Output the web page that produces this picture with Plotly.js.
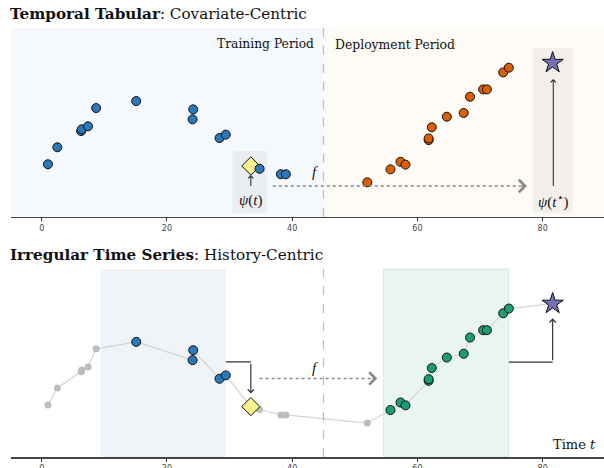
<!DOCTYPE html>
<html>
<head>
<meta charset="utf-8">
<script src="https://cdn.plot.ly/plotly-3.0.1.min.js"></script>
<style>html,body{margin:0;padding:0;background:#fff}#chart{width:604px;height:468px}</style>
</head>
<body>
<div id="chart"></div>
<script>
// ---- data ----
const times  = [1.0, 2.5, 6.3, 6.4, 7.4, 8.7, 15.1, 24.1, 24.2, 28.4, 29.4, 34.8, 38.2, 39.0,
                52.0, 55.7, 57.3, 58.1, 61.8, 61.8, 62.3, 64.7, 67.4, 68.4, 70.5, 71.1, 73.7, 74.6];
const values = [2.78, 3.68, 4.54, 4.63, 4.79, 5.76, 6.13, 5.16, 5.69, 4.17, 4.35, 2.54, 2.25, 2.25,
                1.82, 2.51, 2.91, 2.76, 4.06, 4.15, 4.74, 5.30, 5.50, 6.36, 6.75, 6.75, 7.65, 7.90];
const queryTime = [33.4];
const queryValue = [2.69];
const targetTime = [81.6];
const targetValue = [8.16];
const cutoff = 45;
const historyWindow = [9.4, 29.4];
const forecastWindow = [54.6, 74.6];
const tickVals = [0, 20, 40, 60, 80];

const BLUE = '#2a78b8', ORANGE = '#d95f02', GREEN = '#1b9e77', PURPLE = '#7570b3', YELLOW = '#f7f18e';
const SERIF = 'DejaVu Serif, Liberation Serif, serif';
const SERIF2 = 'Liberation Serif, DejaVu Serif, serif';

const idx = times.map((_, i) => i);
const trainIdx = idx.filter(i => times[i] < cutoff);
const deployIdx = idx.filter(i => times[i] >= cutoff);
const inWin = (t, w) => t >= w[0] - 1e-6 && t <= w[1] + 1e-6;
const histIdx = idx.filter(i => inWin(times[i], historyWindow));
const foreIdx = idx.filter(i => inWin(times[i], forecastWindow));
const restIdx = idx.filter(i => !inWin(times[i], historyWindow) && !inWin(times[i], forecastWindow));
const pick = (arr, ids) => ids.map(i => arr[i]);

// full ordered line (history + query + target)
const lineAll = times.map((t, i) => [t, values[i]]).concat([[queryTime[0], queryValue[0]], [targetTime[0], targetValue[0]]])
  .sort((a, b) => a[0] - b[0]);

const mk = (color, size) => ({color: color, size: size, line: {color: '#111', width: 1}});

const traces = [
  // top panel
  {x: queryTime, y: queryValue, xaxis: 'x', yaxis: 'y', mode: 'markers', type: 'scatter',
   marker: {symbol: 'diamond', color: YELLOW, size: 14, line: {color: '#111', width: 1}}},
  {x: pick(times, trainIdx), y: pick(values, trainIdx), xaxis: 'x', yaxis: 'y', mode: 'markers', type: 'scatter', marker: mk(BLUE, 9)},
  {x: pick(times, deployIdx), y: pick(values, deployIdx), xaxis: 'x', yaxis: 'y', mode: 'markers', type: 'scatter', marker: mk(ORANGE, 9)},
  {x: targetTime, y: targetValue, xaxis: 'x', yaxis: 'y', mode: 'markers', type: 'scatter',
   marker: {symbol: 'star', color: PURPLE, size: 16, line: {color: '#111', width: 1}}},
  // bottom panel
  {x: lineAll.map(p => p[0]), y: lineAll.map(p => p[1]), xaxis: 'x2', yaxis: 'y2', mode: 'lines', type: 'scatter',
   line: {color: '#d4d4d4', width: 1.2}},
  {x: pick(times, restIdx), y: pick(values, restIdx), xaxis: 'x2', yaxis: 'y2', mode: 'markers', type: 'scatter',
   marker: {color: '#bdbdbd', size: 7}},
  {x: pick(times, histIdx), y: pick(values, histIdx), xaxis: 'x2', yaxis: 'y2', mode: 'markers', type: 'scatter', marker: mk(BLUE, 9)},
  {x: pick(times, foreIdx), y: pick(values, foreIdx), xaxis: 'x2', yaxis: 'y2', mode: 'markers', type: 'scatter', marker: mk(GREEN, 9)},
  {x: queryTime, y: queryValue, xaxis: 'x2', yaxis: 'y2', mode: 'markers', type: 'scatter',
   marker: {symbol: 'diamond', color: YELLOW, size: 14, line: {color: '#111', width: 1}}},
  {x: targetTime, y: targetValue, xaxis: 'x2', yaxis: 'y2', mode: 'markers', type: 'scatter',
   marker: {symbol: 'star', color: PURPLE, size: 16, line: {color: '#111', width: 1}}}
];

const xr = [-4.9, 89.8];
const xax = () => ({range: xr, domain: [0, 1], showgrid: false, zeroline: false, showline: true,
  linecolor: '#444', linewidth: 1.3, ticks: 'outside', ticklen: 3, tickcolor: '#333', tickwidth: 1,
  tickvals: tickVals, ticktext: tickVals.map(String), tickfont: {family: 'DejaVu Sans', size: 8, color: '#444'}, fixedrange: true});
const yax = (dom, anchor) => ({range: [0, 10], domain: dom, visible: false, showgrid: false, zeroline: false, anchor: anchor});

const shapes = [
  // top backgrounds
  {type: 'rect', xref: 'x', yref: 'y domain', x0: xr[0], x1: cutoff, y0: 0, y1: 1, fillcolor: '#f5f9fe', line: {width: 0}, layer: 'below'},
  {type: 'rect', xref: 'x', yref: 'y domain', x0: cutoff, x1: xr[1], y0: 0, y1: 1, fillcolor: '#fefbf6', line: {width: 0}, layer: 'below'},
  {type: 'rect', xref: 'x', yref: 'y', x0: 30.5, x1: 36.0, y0: 0.21, y1: 3.48, fillcolor: 'rgba(190,190,190,0.2)', line: {width: 0}, layer: 'below'},
  {type: 'rect', xref: 'x', yref: 'y', x0: 78.5, x1: 84.8, y0: 0.21, y1: 8.94, fillcolor: 'rgba(190,190,190,0.17)', line: {width: 0}, layer: 'below'},
  {type: 'line', xref: 'x', yref: 'y domain', x0: cutoff, x1: cutoff, y0: 0, y1: 1, line: {color: '#bbb', width: 1.2, dash: 'dash'}},
  {type: 'line', xref: 'x', yref: 'y', x0: 36.9, x1: 77.2, y0: 1.63, y1: 1.63, line: {color: '#888', width: 1.5, dash: 'dot'}},
  // bottom windows
  {type: 'rect', xref: 'x2', yref: 'y2 domain', x0: historyWindow[0], x1: historyWindow[1], y0: 0, y1: 1, fillcolor: 'rgba(70,130,180,0.09)', line: {width: 0}, layer: 'below'},
  {type: 'rect', xref: 'x2', yref: 'y2 domain', x0: forecastWindow[0], x1: forecastWindow[1], y0: 0, y1: 1, fillcolor: 'rgba(27,158,119,0.10)', line: {color: 'rgba(27,158,119,0.15)', width: 1}, layer: 'below'},
  {type: 'line', xref: 'x2', yref: 'y2 domain', x0: cutoff, x1: cutoff, y0: 0, y1: 1, line: {color: '#bbb', width: 1.2, dash: 'dash'}},
  {type: 'line', xref: 'x2', yref: 'y2', x0: 34.8, x1: 53.3, y0: 4.19, y1: 4.19, line: {color: '#888', width: 1.5, dash: 'dot'}},
  {type: 'line', xref: 'x2', yref: 'y2', x0: historyWindow[1], x1: queryTime[0], y0: 5.07, y1: 5.07, line: {color: '#333', width: 1.2}},
  {type: 'line', xref: 'x2', yref: 'y2', x0: forecastWindow[1], x1: targetTime[0], y0: 5.05, y1: 5.05, line: {color: '#333', width: 1.2}}
];

const txt = (x, y, xref, yref, text, size, anchor, fam) => ({x: x, y: y, xref: xref, yref: yref, text: text, showarrow: false,
  xanchor: anchor || 'center', yanchor: 'middle', font: {family: fam || SERIF, size: size, color: '#111'}});
const arrow = (x, y, ax, ay, xref, yref, color, w, size) => ({x: x, y: y, ax: ax, ay: ay, xref: xref, yref: yref, axref: xref, ayref: yref,
  text: ' ', font: {size: 1}, showarrow: true, arrowhead: 4, arrowsize: size, arrowwidth: w, arrowcolor: color, standoff: 0, startstandoff: 0});

const annotations = [
  txt(-0.005, 0.970, 'paper', 'paper', '<b>Temporal Tabular</b>: Covariate-Centric', 15.2, 'left'),
  txt(-0.005, 0.455, 'paper', 'paper', '<b>Irregular Time Series</b>: History-Centric', 15.2, 'left'),
  txt(43.8, 9.15, 'x', 'y', 'Training Period', 12.3, 'right'),
  txt(46.6, 9.15, 'x', 'y', 'Deployment Period', 12.4, 'left'),
  txt(43.7, 2.37, 'x', 'y', '<i>f</i>', 15, 'center', SERIF2),
  txt(43.7, 4.73, 'x2', 'y2', '<i>f</i>', 15, 'center', SERIF2),
  txt(33.4, 0.88, 'x', 'y', '<i>ψ</i>(<i>t</i>)', 15, 'center', SERIF2),
  txt(81.7, 0.83, 'x', 'y', '<i>ψ</i>(<i>t</i><sup>⋆</sup>)', 15, 'center', SERIF2),
  txt(88.9, 0.7, 'x2', 'y2', 'Time <i>t</i>', 13, 'right'),
  arrow(33.4, 2.21, 33.4, 1.52, 'x', 'y', '#222', 1, 1),
  arrow(81.7, 7.30, 81.7, 1.52, 'x', 'y', '#222', 1, 1),
  arrow(77.5, 1.63, 76.5, 1.63, 'x', 'y', '#888', 1.5, 1.6),
  arrow(53.6, 4.19, 52.6, 4.19, 'x2', 'y2', '#888', 1.5, 1.6),
  arrow(queryTime[0], 3.39, queryTime[0], 5.07, 'x2', 'y2', '#333', 1.2, 1),
  arrow(targetTime[0], 7.38, targetTime[0], 5.05, 'x2', 'y2', '#333', 1.2, 1)
];

const layout = {
  width: 604, height: 468, showlegend: false,
  margin: {l: 11, r: 0, t: 0, b: 0, pad: 0},
  paper_bgcolor: '#fff', plot_bgcolor: 'rgba(0,0,0,0)',
  xaxis: Object.assign(xax(), {anchor: 'y'}),
  yaxis: yax([0.537, 0.940], 'x'),
  xaxis2: Object.assign(xax(), {anchor: 'y2'}),
  yaxis2: yax([0.0229, 0.4252], 'x2'),
  shapes: shapes, annotations: annotations
};

Plotly.newPlot('chart', traces, layout, {staticPlot: true, displayModeBar: false});
</script>
</body>
</html>
